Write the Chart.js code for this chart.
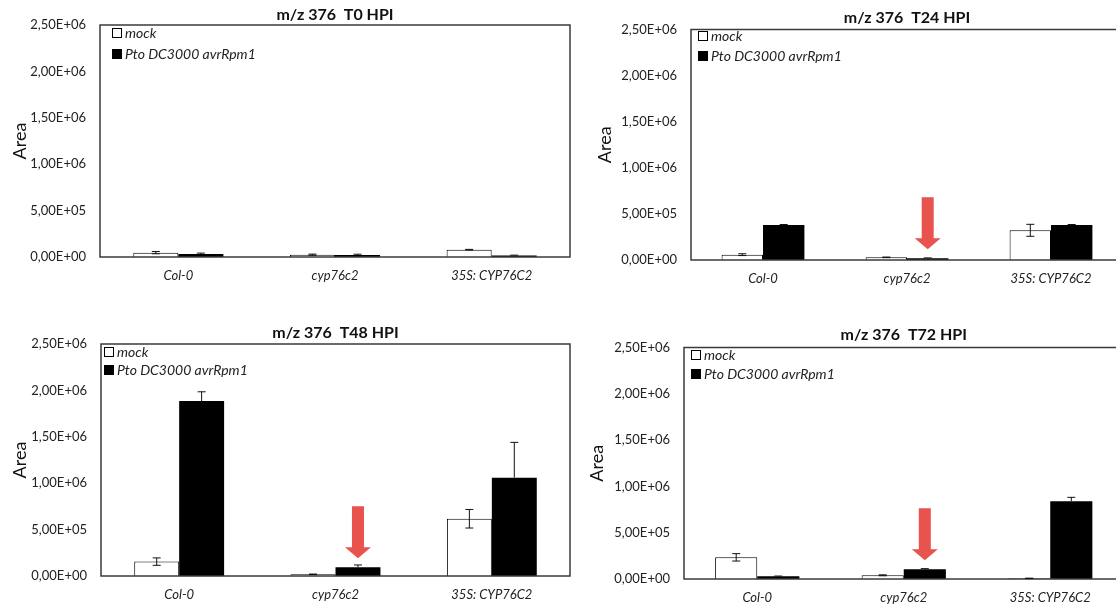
<!DOCTYPE html>
<html>
<head>
<meta charset="utf-8">
<script src="https://cdn.jsdelivr.net/npm/chart.js@4.4.1/dist/chart.umd.min.js"></script>
<style>
  html, body { margin: 0; padding: 0; background: #fff; overflow: hidden; }
  body { width: 1116px; height: 610px; position: relative; }
  canvas { position: absolute; }
</style>
</head>
<body>
<canvas id="chartT0"></canvas>
<canvas id="chartT24"></canvas>
<canvas id="chartT48"></canvas>
<canvas id="chartT72"></canvas>
<script>
const categories = ['Col-0', 'cyp76c2', '35S: CYP76C2'];
const seriesNames = ['mock', 'Pto DC3000 avrRpm1'];
const yTickLabels = ['0,00E+00', '5,00E+05', '1,00E+06', '1,50E+06', '2,00E+06', '2,50E+06'];
const panelTitles = ['m/z 376  T0 HPI', 'm/z 376  T24 HPI', 'm/z 376  T48 HPI', 'm/z 376  T72 HPI'];

// T0 HPI
const t0Mock = [47000, 25000, 79000];
const t0MockErr = [12000, 6000, 3000];
const t0Pto = [32000, 22000, 15000];
const t0PtoErr = [10000, 8000, 5000];

// T24 HPI
const t24Mock = [58000, 29000, 322000];
const t24MockErr = [10000, 3000, 65000];
const t24Pto = [380000, 18000, 380000];
const t24PtoErr = [5000, 5000, 5000];

// T48 HPI
const t48Mock = [155000, 18000, 617000];
const t48MockErr = [40000, 3000, 100000];
const t48Pto = [1885000, 94000, 1060000];
const t48PtoErr = [100000, 25000, 380000];

// T72 HPI
const t72Mock = [234000, 40000, 7000];
const t72MockErr = [40000, 5000, 2000];
const t72Pto = [29000, 104000, 839000];
const t72PtoErr = [3000, 8000, 43000];

const FONT = 'Lato, "Open Sans", sans-serif';
const TEXT = '#222222';
const FRAME = '#403836';

// where each panel sits on the page and how its plot box is placed
const panels = [
  { id: 'chartT0',  pos: [0, 0, 580, 300],   yWidth: 100, xHeight: 43, padRight: 10,   titlePad: [5.4, 0.4],  areaPad: 9,  legend: [12, 8, 21],  arrow: false,
    mock: t0Mock, mockErr: t0MockErr, pto: t0Pto, ptoErr: t0PtoErr, title: panelTitles[0] },
  { id: 'chartT24', pos: [580, 0, 560, 300], yWidth: 111, xHeight: 40, padRight: 17,   titlePad: [8.4, 1.9],  areaPad: 14, legend: [7, 6.5, 20], arrow: true,
    mock: t24Mock, mockErr: t24MockErr, pto: t24Pto, ptoErr: t24PtoErr, title: panelTitles[1] },
  { id: 'chartT48', pos: [0, 305, 580, 305], yWidth: 101, xHeight: 34, padRight: 10,   titlePad: [18.4, 1.4], areaPad: 9,  legend: [3, 8, 18],   arrow: true,
    mock: t48Mock, mockErr: t48MockErr, pto: t48Pto, ptoErr: t48PtoErr, title: panelTitles[2] },
  { id: 'chartT72', pos: [580, 305, 560, 305], yWidth: 104, xHeight: 31, padRight: 16.5, titlePad: [20.4, 2.9], areaPad: 6,  legend: [7, 7.5, 19], arrow: true,
    mock: t72Mock, mockErr: t72MockErr, pto: t72Pto, ptoErr: t72PtoErr, title: panelTitles[3] }
];

// frame round the plot area
const framePlugin = {
  id: 'frame',
  afterDatasetsDraw(chart) {
    const { ctx, chartArea: a } = chart;
    ctx.save();
    ctx.strokeStyle = FRAME;
    ctx.lineWidth = 1.5;
    ctx.strokeRect(a.left, a.top, a.right - a.left, a.bottom - a.top);
    ctx.restore();
  }
};

// error bars; the lower half is hidden inside the black bars
const errorBarPlugin = {
  id: 'errorBars',
  afterDatasetsDraw(chart) {
    const { ctx } = chart;
    const y = chart.scales.y;
    ctx.save();
    ctx.strokeStyle = '#111';
    ctx.lineWidth = 1;
    chart.data.datasets.forEach((ds, i) => {
      const meta = chart.getDatasetMeta(i);
      const showLow = ds.backgroundColor !== '#000000';
      meta.data.forEach((bar, j) => {
        const v = ds.data[j], e = ds.errors[j];
        const yTop = y.getPixelForValue(v + e);
        const yMid = y.getPixelForValue(v);
        const yBot = y.getPixelForValue(Math.max(0, v - e));
        const x = bar.x, cap = 4;
        ctx.beginPath();
        ctx.moveTo(x, yTop); ctx.lineTo(x, showLow ? yBot : yMid);
        ctx.moveTo(x - cap, yTop); ctx.lineTo(x + cap, yTop);
        if (showLow) { ctx.moveTo(x - cap, yBot); ctx.lineTo(x + cap, yBot); }
        ctx.stroke();
      });
    });
    ctx.restore();
  }
};

// legend drawn inside the plot area, top left
const insideLegendPlugin = {
  id: 'insideLegend',
  afterDraw(chart, args, opts) {
    const { ctx, chartArea: a } = chart;
    const [dx, dy, gap] = opts.offset;
    ctx.save();
    ctx.font = 'italic 14px ' + FONT;
    ctx.textBaseline = 'middle';
    chart.data.datasets.forEach((ds, i) => {
      const cy = a.top + dy + i * gap;
      const bx = a.left + dx;
      ctx.fillStyle = ds.backgroundColor;
      ctx.fillRect(bx, cy - 5, 10, 10);
      ctx.strokeStyle = '#000';
      ctx.lineWidth = 1;
      ctx.strokeRect(bx + 0.5, cy - 4.5, 9, 9);
      ctx.fillStyle = TEXT;
      ctx.fillText(ds.label, bx + 13, cy);
    });
    ctx.restore();
  }
};

// red arrow pointing at the cyp76c2 infected bar
const arrowPlugin = {
  id: 'arrow',
  afterDraw(chart, args, opts) {
    if (!opts.show) return;
    const bar = chart.getDatasetMeta(1).data[1];
    const { ctx } = chart;
    const tip = bar.y - 9, len = 52, head = 11, headW = 13, shaftW = 6;
    const x = bar.x;
    ctx.save();
    ctx.fillStyle = '#e9534e';
    ctx.beginPath();
    ctx.moveTo(x - shaftW, tip - len);
    ctx.lineTo(x + shaftW, tip - len);
    ctx.lineTo(x + shaftW, tip - head);
    ctx.lineTo(x + headW, tip - head);
    ctx.lineTo(x, tip);
    ctx.lineTo(x - headW, tip - head);
    ctx.lineTo(x - shaftW, tip - head);
    ctx.closePath();
    ctx.fill();
    ctx.restore();
  }
};

function makeChart(p) {
  const canvas = document.getElementById(p.id);
  canvas.style.left = p.pos[0] + 'px';
  canvas.style.top = p.pos[1] + 'px';
  canvas.width = p.pos[2];
  canvas.height = p.pos[3];

  return new Chart(canvas, {
    type: 'bar',
    data: {
      labels: categories,
      datasets: [
        {
          label: seriesNames[0],
          data: p.mock,
          errors: p.mockErr,
          backgroundColor: '#ffffff',
          borderColor: '#000000',
          borderWidth: 1,
          barPercentage: 1,
          categoryPercentage: 0.575
        },
        {
          label: seriesNames[1],
          data: p.pto,
          errors: p.ptoErr,
          backgroundColor: '#000000',
          borderColor: '#000000',
          borderWidth: 0,
          barPercentage: 1,
          categoryPercentage: 0.575
        }
      ]
    },
    options: {
      responsive: false,
      animation: false,
      devicePixelRatio: 1,
      layout: { padding: { left: 0, top: 0, right: p.padRight, bottom: 0 } },
      plugins: {
        legend: { display: false },
        tooltip: { enabled: false },
        title: {
          display: true,
          fullSize: false,
          text: p.title,
          color: '#111111',
          font: { family: FONT, size: 16, weight: 'bold' },
          padding: { top: p.titlePad[0], bottom: p.titlePad[1] }
        },
        insideLegend: { offset: p.legend },
        arrow: { show: p.arrow }
      },
      scales: {
        x: {
          grid: { display: false, drawTicks: false },
          border: { display: false },
          ticks: {
            color: TEXT,
            padding: 11,
            maxRotation: 0,
            font: { family: FONT, size: 13, style: 'italic' }
          },
          afterFit(scale) { scale.height = p.xHeight; }
        },
        y: {
          min: 0,
          max: 2500000,
          grid: { display: false, drawTicks: false },
          border: { display: false },
          ticks: {
            stepSize: 500000,
            color: TEXT,
            padding: 14,
            font: { family: FONT, size: 13 },
            callback: (value, index) => yTickLabels[index]
          },
          title: {
            display: true,
            text: 'Area',
            color: '#111111',
            font: { family: FONT, size: 18 },
            padding: { top: p.areaPad, bottom: 0 }
          },
          afterFit(scale) { scale.width = p.yWidth; }
        }
      }
    },
    plugins: [framePlugin, errorBarPlugin, insideLegendPlugin, arrowPlugin]
  });
}

panels.forEach(makeChart);
</script>
</body>
</html>
